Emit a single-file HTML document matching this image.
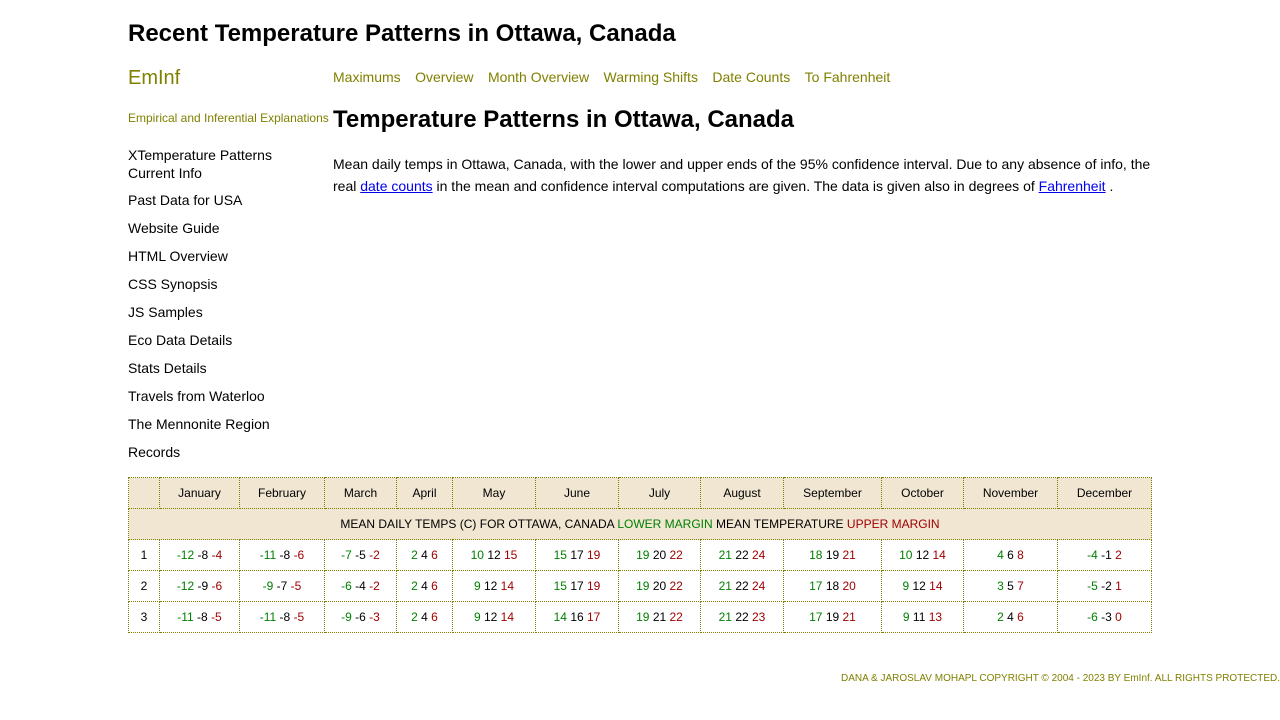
<!DOCTYPE html>
<html><head><meta charset="utf-8"><style>
body{margin:0;width:1280px;height:720px;position:relative;font-family:"Liberation Sans",Arial,sans-serif;background:#fff;color:#000;overflow:hidden}
.a{position:absolute;white-space:nowrap}
h1{position:absolute;left:128px;top:20px;margin:0;font-size:24px;font-weight:bold}
.ol{color:#808000}
.nav a{color:#808000;text-decoration:none;margin-right:10px;font-size:14px}
.side div{position:absolute;left:128px;font-size:14px}
p.t{position:absolute;left:333px;top:153px;width:830px;margin:0;font-size:14px;line-height:22px}
p.t a{color:#0000ee}
table{position:absolute;left:128px;top:477px;border-collapse:collapse;table-layout:fixed;width:1024px;font-size:12px}
td{border:1px dotted #808000;height:30px;text-align:center;padding:0}
.h td{background:#f0e6d2}
.g{color:#008000}.r{color:#a00000}
</style></head><body>
<h1>Recent Temperature Patterns in Ottawa, Canada</h1>
<div class="a ol" style="left:128px;top:67px;font-size:20px">EmInf</div>
<div class="a ol" style="left:128px;top:111px;font-size:12px">Empirical and Inferential Explanations</div>
<div class="a nav" style="left:333px;top:69px">
<a>Maximums</a> <a>Overview</a> <a>Month Overview</a> <a>Warming Shifts</a> <a>Date Counts</a> <a>To Fahrenheit</a></div>
<div class="a" style="left:333px;top:106px;font-size:24px;font-weight:bold">Temperature Patterns in Ottawa, Canada</div>
<div class="side">
<div style="top:146px;line-height:18px">XTemperature Patterns<br>Current Info</div>
<div style="top:192px">Past Data for USA</div>
<div style="top:220px">Website Guide</div>
<div style="top:248px">HTML Overview</div>
<div style="top:276px">CSS Synopsis</div>
<div style="top:304px">JS Samples</div>
<div style="top:332px">Eco Data Details</div>
<div style="top:360px">Stats Details</div>
<div style="top:388px">Travels from Waterloo</div>
<div style="top:416px">The Mennonite Region</div>
<div style="top:444px">Records</div>
</div>
<p class="t">Mean daily temps in Ottawa, Canada, with the lower and upper ends of the 95% confidence interval. Due to any absence of info, the real <a href="#">date counts</a> in the mean and confidence interval computations are given. The data is given also in degrees of <a href="#">Fahrenheit</a> .</p>
<table id="tbl">
<colgroup><col style="width:31px"><col style="width:80px"><col style="width:85px"><col style="width:72px"><col style="width:56px"><col style="width:83px"><col style="width:83px"><col style="width:82px"><col style="width:83px"><col style="width:98px"><col style="width:82px"><col style="width:94px"><col style="width:94px"></colgroup>
<tbody id="tb"></tbody></table>
<div class="a ol" style="right:0;top:673px;font-size:10px">DANA &amp; JAROSLAV MOHAPL COPYRIGHT © 2004 - 2023 BY EmInf. ALL RIGHTS PROTECTED.</div>
<script>
const months=["January","February","March","April","May","June","July","August","September","October","November","December"];
const lower=[[-12,-11,-7,2,10,15,19,21,18,10,4,-4],[-12,-9,-6,2,9,15,19,21,17,9,3,-5],[-11,-11,-9,2,9,14,19,21,17,9,2,-6]];
const mean=[[-8,-8,-5,4,12,17,20,22,19,12,6,-1],[-9,-7,-4,4,12,17,20,22,18,12,5,-2],[-8,-8,-6,4,12,16,21,22,19,11,4,-3]];
const upper=[[-4,-6,-2,6,15,19,22,24,21,14,8,2],[-6,-5,-2,6,14,19,22,24,20,14,7,1],[-5,-5,-3,6,14,17,22,23,21,13,6,0]];
const tb=document.getElementById('tb');
let tr=document.createElement('tr');tr.className='h';


let h='<td></td>';months.forEach(m=>h+='<td>'+m+'</td>');tr.innerHTML=h;tb.appendChild(tr);
tr=document.createElement('tr');tr.className='h';


tr.innerHTML='<td colspan="13">MEAN DAILY TEMPS (C) FOR OTTAWA, CANADA <span class="g">LOWER MARGIN</span> MEAN TEMPERATURE <span class="r">UPPER MARGIN</span></td>';
tb.appendChild(tr);
for(let d=0;d<lower.length;d++){
 tr=document.createElement('tr');
 
 
 let s='<td>'+(d+1)+'</td>';
 for(let m=0;m<12;m++)s+='<td><span class="g">'+lower[d][m]+'</span> '+mean[d][m]+' <span class="r">'+upper[d][m]+'</span></td>';
 tr.innerHTML=s;tb.appendChild(tr);
}
</script>
</body></html>
